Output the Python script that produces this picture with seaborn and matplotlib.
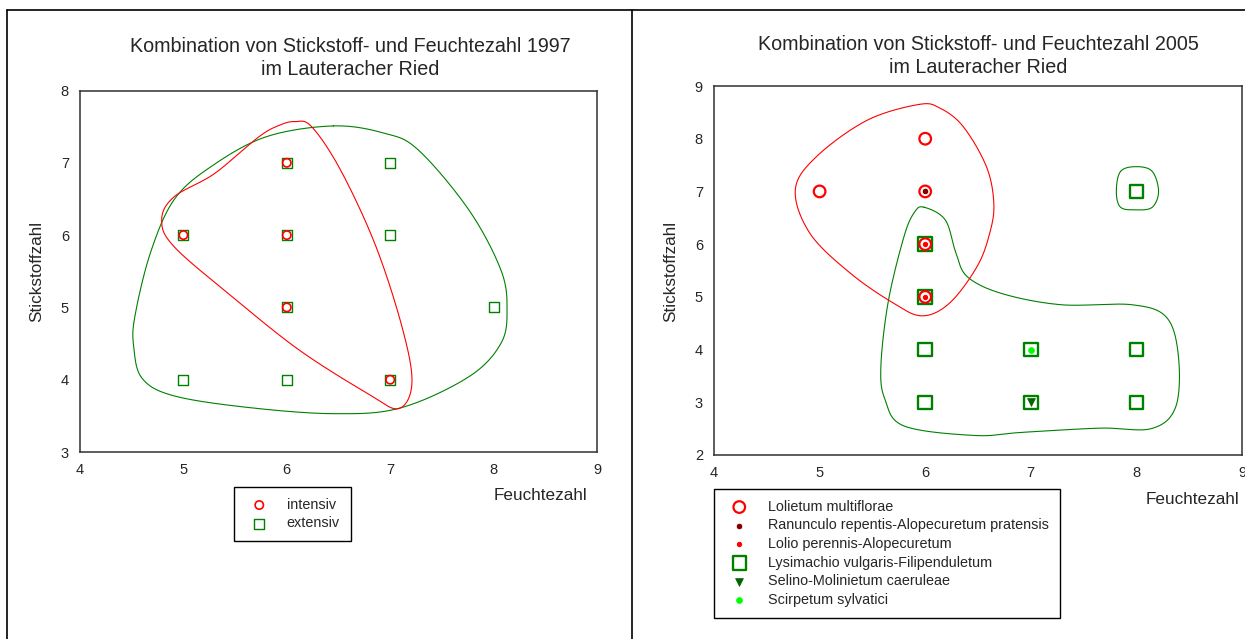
import numpy as np
import matplotlib
matplotlib.use('Agg')
import matplotlib.pyplot as plt
import seaborn as sns

# ---- data 1997 (Feuchtezahl, Stickstoffzahl)
intensiv_x = [6, 5, 6, 6, 7]
intensiv_y = [7, 6, 6, 5, 4]
extensiv_x = [6, 7, 5, 6, 7, 6, 8, 5, 6, 7]
extensiv_y = [7, 7, 6, 6, 6, 5, 5, 4, 4, 4]

# outlines 1997 (hand-drawn envelopes)
hull97_int_x = [6.08, 5.93, 5.73, 5.30, 4.91, 4.79, 4.91, 5.47, 6.12, 6.78, 7.08, 7.21, 7.12, 6.86, 6.52,
                6.24]
hull97_int_y = [7.57, 7.52, 7.36, 6.85, 6.53, 6.21, 5.84, 5.15, 4.41, 3.81, 3.60, 3.95, 4.70, 5.85, 6.90,
                7.50]
hull97_ext_x = [6.45, 5.80, 5.27, 4.91, 4.68, 4.53, 4.52, 4.60, 4.90, 5.60, 6.45, 7.10, 7.76, 8.07, 8.13,
                8.07, 7.76, 7.27, 6.94]
hull97_ext_y = [7.51, 7.36, 6.95, 6.49, 5.75, 4.87, 4.45, 4.02, 3.78, 3.62, 3.53, 3.61, 4.04, 4.50, 4.97,
                5.52, 6.35, 7.18, 7.41]

# ---- data 2005
lolietum_x = [6, 5, 6, 6, 6]
lolietum_y = [8, 7, 7, 6, 5]
ranunculo_x = [6]
ranunculo_y = [7]
lolio_x = [6, 6]
lolio_y = [6, 5]
lysimachio_x = [6, 6, 8, 6, 6, 7, 7, 8, 8]
lysimachio_y = [6, 5, 7, 4, 3, 4, 3, 4, 3]
selino_x = [7]
selino_y = [3]
scirpetum_x = [7]
scirpetum_y = [4]

hull05_red_x = [5.94, 5.45, 4.97, 4.77, 4.91, 5.29, 5.70, 5.97, 6.23, 6.49, 6.61, 6.65, 6.58, 6.36, 6.14]
hull05_red_y = [8.65, 8.35, 7.66, 7.03, 6.20, 5.45, 4.88, 4.64, 4.88, 5.57, 6.20, 6.77, 7.47, 8.23, 8.58]
hull05_small_x = [7.85, 8.00, 8.15, 8.21, 8.15, 8.00, 7.85, 7.81]
hull05_small_y = [7.38, 7.47, 7.38, 7.00, 6.70, 6.65, 6.70, 7.00]
hull05_big_x = [5.99, 6.19, 6.29, 6.40, 6.73, 7.29, 7.96, 8.29, 8.40, 8.37, 8.14, 7.66, 6.92, 6.47, 5.80,
                5.62, 5.58, 5.65, 5.80, 5.90]
hull05_big_y = [6.70, 6.46, 5.84, 5.38, 5.06, 4.85, 4.85, 4.60, 3.83, 2.90, 2.50, 2.51, 2.43, 2.37, 2.55,
                3.05, 3.67, 4.91, 6.15, 6.61]

RED = '#ff0000'
GREEN = '#008000'


def smooth_closed(xs, ys, n=40):
    pts = np.column_stack([xs, ys])
    k = len(pts)
    t = np.linspace(0, 1, n, endpoint=False)[:, None]
    segs = []
    for i in range(k):
        p0, p1, p2, p3 = pts[(i - 1) % k], pts[i], pts[(i + 1) % k], pts[(i + 2) % k]
        segs.append(0.5 * (2 * p1 + (-p0 + p2) * t + (2 * p0 - 5 * p1 + 4 * p2 - p3) * t ** 2
                           + (-p0 + 3 * p1 - 3 * p2 + p3) * t ** 3))
    out = np.vstack(segs + [pts[:1]])
    return out[:, 0], out[:, 1]


def style_axes(ax, xlim, ylim):
    ax.set_xlim(*xlim)
    ax.set_ylim(*ylim)
    ax.set_xticks(range(xlim[0], xlim[1] + 1))
    ax.set_yticks(range(ylim[0], ylim[1] + 1))
    for sp in ax.spines.values():
        sp.set_visible(True)
        sp.set_color('#303030')
        sp.set_linewidth(1.1)
    ax.tick_params(direction='out', length=4, width=1, color='#303030', labelsize=10.5, pad=4)
    ax.set_xlabel('')
    ax.set_ylabel('')


sns.set_style('white')
plt.rcParams['font.family'] = ['Liberation Sans', 'DejaVu Sans']

fig = plt.figure(figsize=(12.45, 6.39), dpi=100)
W, H = 1245, 639


def fx(px):
    return px / W


def fy(py):
    return 1 - py / H


# outer frame
fig.add_artist(plt.Line2D([fx(7), 1], [fy(10), fy(10)], color='black', lw=1.2))
fig.add_artist(plt.Line2D([fx(7), fx(7)], [0, fy(10)], color='black', lw=1.2))
fig.add_artist(plt.Line2D([fx(632), fx(632)], [0, fy(10)], color='black', lw=1.2))

# ---- left panel
ax1 = fig.add_axes([fx(80), fy(452), fx(597 - 80), (452 - 90.5) / H])
for hx, hy, c in [(hull97_ext_x, hull97_ext_y, GREEN), (hull97_int_x, hull97_int_y, RED)]:
    sx, sy = smooth_closed(hx, hy)
    ax1.plot(sx, sy, color=c, lw=0.8)
sns.scatterplot(x=extensiv_x, y=extensiv_y, marker='s', s=52, facecolor='none', edgecolor=GREEN,
                linewidth=1.0, ax=ax1, label='extensiv', zorder=3)
sns.scatterplot(x=intensiv_x, y=intensiv_y, marker='o', s=36, facecolor='none', edgecolor=RED,
                linewidth=1.2, ax=ax1, label='intensiv', zorder=4)
style_axes(ax1, (4, 9), (3, 8))
h, l = ax1.get_legend_handles_labels()
ax1.legend([h[1], h[0]], [l[1], l[0]], loc='upper left', bbox_to_anchor=(fx(234), fy(487)),
           bbox_transform=fig.transFigure, borderaxespad=0, fancybox=False, framealpha=1,
           edgecolor='black', fontsize=10.4, handletextpad=0.9, labelspacing=0.32,
           borderpad=0.75, handlelength=2.0).get_frame().set_linewidth(1.0)
fig.text(fx(350), fy(58), 'Kombination von Stickstoff- und Feuchtezahl 1997\nim Lauteracher Ried',
         ha='center', va='center', fontsize=14.2, linespacing=1.25)
fig.text(fx(37), fy(271), 'Stickstoffzahl', rotation=90, ha='center', va='center', fontsize=12.3)
fig.text(fx(587), fy(496), 'Feuchtezahl', ha='right', va='center', fontsize=12.3)

# ---- right panel
ax2 = fig.add_axes([fx(714), fy(455), fx(1242 - 714), (455 - 86) / H])
for hx, hy, c in [(hull05_big_x, hull05_big_y, GREEN), (hull05_small_x, hull05_small_y, GREEN),
                  (hull05_red_x, hull05_red_y, RED)]:
    sx, sy = smooth_closed(hx, hy)
    ax2.plot(sx, sy, color=c, lw=0.8)
sns.scatterplot(x=lysimachio_x, y=lysimachio_y, marker='s', s=95, facecolor='none', edgecolor=GREEN,
                linewidth=1.7, ax=ax2, label='Lysimachio vulgaris-Filipenduletum', zorder=3)
sns.scatterplot(x=lolietum_x, y=lolietum_y, marker='o', s=70, facecolor='none', edgecolor=RED,
                linewidth=1.6, ax=ax2, label='Lolietum multiflorae', zorder=4)
sns.scatterplot(x=ranunculo_x, y=ranunculo_y, marker='o', s=22, color='#800000', edgecolor='white',
                linewidth=0.6, ax=ax2, label='Ranunculo repentis-Alopecuretum pratensis', zorder=5)
sns.scatterplot(x=lolio_x, y=lolio_y, marker='o', s=22, color=RED, edgecolor='white',
                linewidth=0.8, ax=ax2, label='Lolio perennis-Alopecuretum', zorder=5)
sns.scatterplot(x=selino_x, y=selino_y, marker='v', s=32, color='#006400', edgecolor='#006400',
                linewidth=0.5, ax=ax2, label='Selino-Molinietum caeruleae', zorder=5)
sns.scatterplot(x=scirpetum_x, y=scirpetum_y, marker='o', s=18, color='#00ff00', edgecolor='#00ff00',
                linewidth=0.5, ax=ax2, label='Scirpetum sylvatici', zorder=5)
style_axes(ax2, (4, 9), (2, 9))
h, l = ax2.get_legend_handles_labels()
order = [1, 2, 3, 0, 4, 5]
leg = ax2.legend([h[i] for i in order], [l[i] for i in order], loc='upper left',
                 bbox_to_anchor=(fx(714), fy(489)), bbox_transform=fig.transFigure, borderaxespad=0,
                 fancybox=False, framealpha=1, edgecolor='black', fontsize=10.4, handletextpad=1.0,
                 labelspacing=0.32, borderpad=0.75, handlelength=2.0)
leg.get_frame().set_linewidth(1.0)
fig.text(fx(978), fy(56), 'Kombination von Stickstoff- und Feuchtezahl 2005\nim Lauteracher Ried',
         ha='center', va='center', fontsize=14.2, linespacing=1.25)
fig.text(fx(671), fy(271), 'Stickstoffzahl', rotation=90, ha='center', va='center', fontsize=12.3)
fig.text(fx(1239), fy(500), 'Feuchtezahl', ha='right', va='center', fontsize=12.3)

fig.savefig('out.png', dpi=100)
